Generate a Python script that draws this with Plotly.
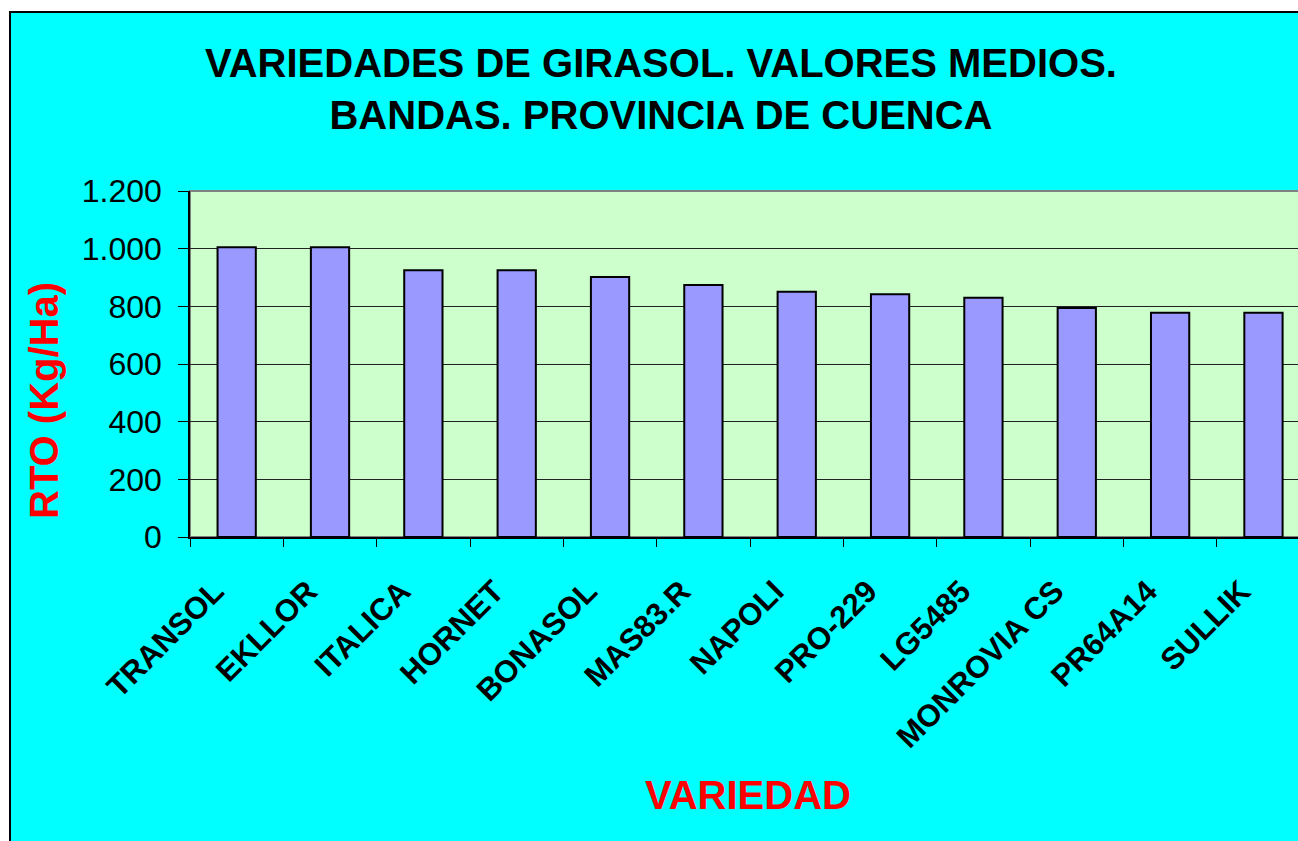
import plotly.graph_objects as go

variedades = ["TRANSOL", "EKLLOR", "ITALICA", "HORNET", "BONASOL", "MAS83.R",
              "NAPOLI", "PRO-229", "LG5485", "MONROVIA CS", "PR64A14", "SULLIK"]
rto = [1005, 1005, 925, 925, 902, 874, 851, 842, 830, 794, 778, 778]
y_ticks = [0, 200, 400, 600, 800, 1000, 1200]

# page body margin is removed below, so the figure sits at (0, 0)
W, H = 1298, 841
L, T = 190, 191
B = H - 537
R = 0
pw, ph = W - L - R, H - T - B

def px(x):  # reference-page pixel -> paper x
    return (x - 190) / pw

def py(y):  # reference-page pixel -> paper y
    return (537 - y) / ph

FONT = "Liberation Sans, Arial, sans-serif"

fig = go.Figure()
fig.add_trace(go.Bar(
    x=variedades, y=rto,
    marker=dict(color="#9999FF", line=dict(color="black", width=2)),
    width=0.41,
))

shapes = [
    dict(type="rect", xref="paper", yref="paper", layer="below",
         x0=px(10), x1=px(1330), y0=py(870), y1=py(12),
         fillcolor="#00FFFF", line=dict(color="black", width=2)),
    dict(type="rect", xref="paper", yref="paper", layer="below",
         x0=0, x1=1.01, y0=0, y1=1,
         fillcolor="#CCFFCC", line=dict(color="#808080", width=2)),
]

annotations = [
    dict(text="VARIEDADES DE GIRASOL. VALORES MEDIOS.<br>BANDAS. PROVINCIA DE CUENCA",
         xref="paper", yref="paper", x=px(661), y=py(89), xanchor="center", yanchor="middle",
         showarrow=False, font=dict(family=FONT, size=40, color="black", weight="bold")),
    dict(text="RTO (Kg/Ha)", xref="paper", yref="paper", x=px(44), y=py(400),
         xanchor="center", yanchor="middle", textangle=-90, showarrow=False,
         font=dict(family=FONT, size=40, color="red", weight="bold")),
    dict(text="VARIEDAD", xref="paper", yref="paper", x=px(748), y=py(795),
         xanchor="center", yanchor="middle", showarrow=False,
         font=dict(family=FONT, size=40, color="red", weight="bold")),
]

fig.update_layout(
    width=W, height=H,
    margin=dict(l=L, r=R, t=T, b=B, pad=0),
    paper_bgcolor="white",
    plot_bgcolor="rgba(0,0,0,0)",
    separators=",.",
    showlegend=False,
    shapes=shapes,
    annotations=annotations,
    font=dict(family=FONT, color="black"),
)
fig.update_xaxes(
    range=[-0.5, 11.37],
    tickangle=-45,
    tickfont=dict(family=FONT, size=31, color="black", weight="bold"),
    ticks="outside", tickson="boundaries", ticklen=8, tickcolor="black",
    ticklabelshift=-22, ticklabelstandoff=22,
    showline=True, linecolor="black", linewidth=1.5,
    showgrid=False,
)
fig.update_yaxes(
    range=[0, 1200],
    tickvals=y_ticks, tickformat=",d",
    tickfont=dict(family=FONT, size=32, color="black"),
    ticks="outside", ticklen=10, tickcolor="black",
    ticklabelstandoff=10,
    showline=True, linecolor="black", linewidth=1.5,
    showgrid=True, gridcolor="#222222", gridwidth=1,
    zeroline=False,
)

fig.write_html(
    "out.html",
    config={"displayModeBar": False},
    post_script="document.body.style.margin='0';document.body.style.overflow='hidden';",
)
